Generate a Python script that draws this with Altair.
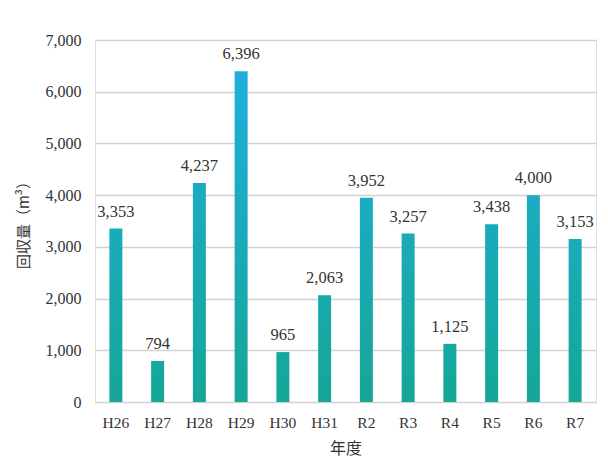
import altair as alt
import pandas as pd

years = ["H26", "H27", "H28", "H29", "H30", "H31", "R2", "R3", "R4", "R5", "R6", "R7"]
amounts = [3353, 794, 4237, 6396, 965, 2063, 3952, 3257, 1125, 3438, 4000, 3153]

YMAX = 7000
TOP = (0x1F, 0xB0, 0xE2)
BOT = (0x15, 0xA6, 0x97)


def mix(t):
    c = [round(BOT[i] + (TOP[i] - BOT[i]) * t) for i in range(3)]
    return "#%02x%02x%02x" % tuple(c)


rows = []
for y, v in zip(years, amounts):
    rows.append({
        "年度": y,
        "value": v,
        "label": f"{v:,}",
        "grad": {
            "gradient": "linear", "x1": 0, "y1": 0, "x2": 0, "y2": 1,
            "stops": [{"offset": 0, "color": mix(v / YMAX)},
                      {"offset": 1, "color": mix(0)}],
        },
    })

data = alt.Data(values=rows)
serif = "'Liberation Serif', 'DejaVu Serif', serif"
jp = "Noto Sans CJK JP"

x = alt.X("年度:N", sort=years, title="年度",
          scale=alt.Scale(paddingInner=0, paddingOuter=0),
          axis=alt.Axis(labelAngle=0, domain=False, ticks=False,
                        labelFont=serif, labelFontSize=15.5, labelColor="#333333",
                        labelPadding=13, titleFont=jp, titleFontSize=16,
                        titleFontWeight="normal", titleColor="#333333",
                        titlePadding=10))

y = alt.Y("value:Q", title="回収量（m³）",
          scale=alt.Scale(domain=[0, YMAX]),
          axis=alt.Axis(values=list(range(0, 7001, 1000)), format=",d",
                        domain=False, ticks=False, grid=True,
                        gridColor="#d2d2d2", gridWidth=1.5,
                        labelFont=serif, labelFontSize=16, labelColor="#333333",
                        labelPadding=14, titleFont=jp, titleFontSize=15,
                        titleFontWeight="normal", titleColor="#333333",
                        titlePadding=14))

bars = alt.Chart(data).mark_bar(size=13).encode(
    x=x, y=y,
    fill=alt.Fill("grad:N", scale=None, legend=None),
)

labels = alt.Chart(data).mark_text(
    dy=-17, font=serif, fontSize=16.5, color="#333333"
).encode(x=alt.X("年度:N", sort=years), y="value:Q", text="label:N")

chart = alt.layer(bars, labels).properties(
    width=501, height=362,
    autosize=alt.AutoSizeParams(type="none"),
    padding={"left": 87, "top": 32, "right": 4, "bottom": 60},
).configure_view(stroke=None).configure(background="white")

chart.save("out.html", embed_options={"renderer": "svg", "actions": False})
